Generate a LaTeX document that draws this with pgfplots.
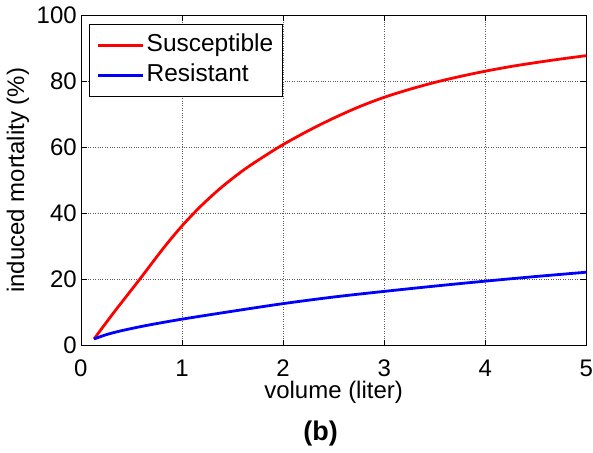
\documentclass[border=0pt]{standalone}
\usepackage{fontspec}
\setmainfont{Liberation Sans}
\usepackage{pgfplots}
\pgfplotsset{compat=1.18}
\begin{document}
\begin{tikzpicture}
\begin{axis}[
  scale only axis,
  width=506pt, height=331pt,
  xmin=0, xmax=5, ymin=0, ymax=100,
  xtick={0,1,2,3,4,5}, ytick={0,20,40,60,80,100},
  /pgf/number format/assume math mode=true,
  tick label style={font=\fontsize{24}{28}\selectfont, inner sep=0pt},
  xticklabel style={anchor=north, yshift=-14pt},
  yticklabel style={anchor=east, xshift=-4pt},
  label style={font=\fontsize{24}{28}\selectfont},
  xlabel={volume (liter)},
  ylabel={induced mortality (\%)},
  xlabel style={at={(axis description cs:0.5,-0.142)}, anchor=center},
  ylabel style={at={(axis description cs:-0.1245,0.5)}, anchor=center},
  grid=major,
  major grid style={black!65, dotted, line width=0.6pt},
  tick align=inside,
  major tick length=6pt,
  axis line style={line width=0.8pt},
  tick style={black, line width=0.6pt},
  legend style={at={(0.016,0.973)}, anchor=north west, draw=black, line width=0.9pt,
    font=\fontsize{24.5}{28}\selectfont, inner xsep=7pt, inner ysep=6pt, row sep=0pt,
    nodes={inner xsep=2.5pt, inner ysep=3pt, font=\fontsize{24.5}{28}\selectfont, text height=18pt, text depth=6pt}},
  legend cell align=left,
  legend image code/.code={\draw[#1] (0pt,0pt) -- (45pt,0pt);},
]
\addplot[red, line width=2.8pt, smooth] coordinates {
(0.13,2.0) (0.32,9.8) (0.585,20.2) (0.817,29.5) (1.0,36.2) (1.18,42.0) (1.38,47.6)
(1.6,52.9) (1.8,57.0) (2.0,60.8) (2.25,65.0) (2.5,68.8) (2.75,72.2) (3.0,75.1)
(3.25,77.5) (3.5,79.6) (3.75,81.4) (4.0,83.0) (4.25,84.4) (4.5,85.6) (4.75,86.7)
(5.0,87.7)};
\addlegendentry{Susceptible}
\addplot[blue, line width=2.8pt, smooth] coordinates {
(0.13,2.0) (0.25,3.3) (0.4,4.5) (0.65,6.1) (1.0,8.0) (1.5,10.4) (2.0,12.7)
(2.5,14.7) (3.0,16.4) (3.5,18.0) (4.0,19.5) (4.5,20.9) (5.0,22.2)};
\addlegendentry{Resistant}
\end{axis}
\node[font=\fontsize{27}{31}\selectfont\bfseries] at (240pt,-88pt) {(b)};
\useasboundingbox (-81pt,-107pt) rectangle (512pt,346pt);
\end{tikzpicture}
\end{document}
